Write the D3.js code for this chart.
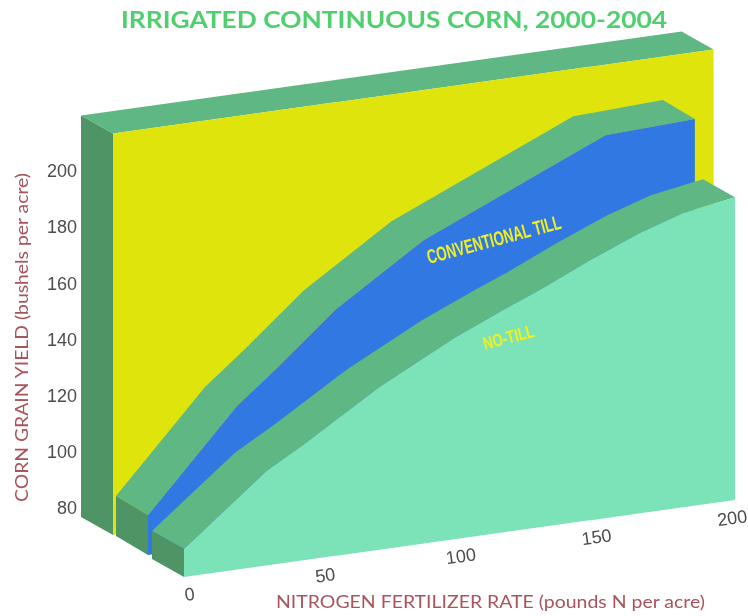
<!DOCTYPE html>
<html>
<head>
<meta charset="utf-8">
<script src="https://cdn.jsdelivr.net/npm/d3@7/dist/d3.min.js"></script>
<style>
  html, body { margin: 0; padding: 0; background: #fff; }
  svg { display: block; }
</style>
</head>
<body>
<div id="chart"></div>
<script>
var chartTitle = 'IRRIGATED CONTINUOUS CORN, 2000-2004';
var yTitle = 'CORN GRAIN YIELD (bushels per acre)';
var xTitle = 'NITROGEN FERTILIZER RATE (pounds N per acre)';

var yTicks = [80, 100, 120, 140, 160, 180, 200];
var xTicks = [0, 50, 100, 150, 200];

var noTillRate = [0, 30, 44.6, 71, 98, 117, 129, 147.4, 165.5, 181, 200];
var noTillYield = [90, 113.6, 121.9, 137.9, 151.6, 159.7, 164.4, 172.6, 179.8, 184.7, 187.8];

var convRate = [0, 32.3, 46, 67.9, 100, 166, 198.5];
var convYield = [94.2, 128.6, 139.5, 157.9, 178.4, 206.7, 208];

// back wall runs a bit past the last rate and up past the last tick
var wallRate = [0, 218];
var wallYield = [223, 223];

var width = 748, height = 616;

var colors = {
  wall: '#e0e40a',
  conv: '#3278e3',
  noTill: '#7ce3b8',
  top: '#5fb784',
  side: '#509465',
  title: '#4fcf6e',
  label: '#a9535a',
  tick: '#4d4d4d',
  note: '#f2f01e'
};

// the fake 3d: every plane is the front plane slid back by dx, dy
var planes = {
  noTillFront: {dx: 0, dy: 0},
  noTillBack: {dx: -32, dy: -18},
  convFront: {dx: -36, dy: -22},
  convBack: {dx: -68, dy: -41},
  wallFront: {dx: -71, dy: -42},
  wallBack: {dx: -103, dy: -60}
};

var xScale = d3.scaleLinear().domain([0, 200]).range([184, 735]);
var floorScale = d3.scaleLinear().domain([0, 200]).range([577, 500]);
var heightScale = d3.scaleLinear().domain([80, 200]).range([0, 337]);

var project = function(rate, value, plane) {
  return [
    xScale(rate) + plane.dx,
    floorScale(rate) - heightScale(value) + plane.dy
  ];
};

var curve = function(rates, values, plane) {
  return rates.map(function(r, i) { return project(r, values[i], plane); });
};

var floor = function(rates, plane) {
  return rates.map(function(r) { return project(r, 80, plane); });
};

var svg = d3.select('#chart').append('svg')
  .attr('width', width)
  .attr('height', height);

svg.append('filter')
  .attr('id', 'soft')
  .attr('x', '-5%').attr('y', '-5%')
  .attr('width', '110%').attr('height', '110%')
  .append('feGaussianBlur')
  .attr('stdDeviation', 0.6);

var root = svg.append('g').attr('filter', 'url(#soft)');

var line = d3.line();

var polygon = function(points, fill) {
  root.append('path')
    .attr('d', line(points) + 'Z')
    .attr('fill', fill);
};

// solid slab: top ribbon, left side, then the front face
var slab = function(rates, values, front, back, fill) {
  var frontTop = curve(rates, values, front);
  var backTop = curve(rates, values, back);
  var last = rates[rates.length - 1];
  var frontFloor = floor([last, 0], front);

  polygon(backTop.concat(frontTop.slice().reverse()), colors.top);
  polygon([
    backTop[0], frontTop[0],
    project(0, 80, front), project(0, 80, back)
  ], colors.side);
  polygon(frontTop.concat(frontFloor), fill);
};

slab(wallRate, wallYield, planes.wallFront, planes.wallBack, colors.wall);
slab(convRate, convYield, planes.convFront, planes.convBack, colors.conv);
slab(noTillRate, noTillYield, planes.noTillFront, planes.noTillBack, colors.noTill);

// y axis sits against the back wall
var yAxisScale = d3.scaleLinear()
  .domain([80, 200])
  .range([project(0, 80, planes.wallBack)[1] - 9, project(0, 200, planes.wallBack)[1] - 9]);

var yAxis = root.append('g')
  .attr('transform', 'translate(77, 0)')
  .call(d3.axisLeft(yAxisScale).tickValues(yTicks).tickSize(0).tickPadding(0));

// x axis follows the floor, so the group itself is rotated
var xAxisScale = d3.scaleLinear().domain([0, 200]).range([0, 548]);

var xAxis = root.append('g')
  .attr('transform', 'translate(189, 594) rotate(-8)')
  .call(d3.axisBottom(xAxisScale).tickValues(xTicks).tickSize(0).tickPadding(0));

[yAxis, xAxis].forEach(function(axis) {
  axis.select('.domain').remove();
  axis.selectAll('text')
    .attr('fill', colors.tick)
    .style('font-family', '"Liberation Sans", sans-serif')
    .style('font-size', '18px');
});
xAxis.selectAll('text').attr('y', 0).attr('dy', '0.36em');

root.append('text')
  .attr('x', 121)
  .attr('y', 28)
  .attr('textLength', 546)
  .attr('lengthAdjust', 'spacingAndGlyphs')
  .attr('fill', colors.title)
  .style('font-family', 'Lato, sans-serif')
  .style('font-weight', 700)
  .style('font-size', '23px')
  .text(chartTitle);

root.append('text')
  .attr('transform', 'translate(28, 502) rotate(-90)')
  .attr('textLength', 329)
  .attr('lengthAdjust', 'spacingAndGlyphs')
  .attr('fill', colors.label)
  .style('font-family', 'Lato, sans-serif')
  .style('font-size', '17px')
  .text(yTitle);

root.append('text')
  .attr('x', 276)
  .attr('y', 608)
  .attr('textLength', 429)
  .attr('lengthAdjust', 'spacingAndGlyphs')
  .attr('fill', colors.label)
  .style('font-family', 'Lato, sans-serif')
  .style('font-size', '17px')
  .text(xTitle);

root.append('text')
  .attr('transform', 'translate(429, 264) rotate(-15)')
  .attr('textLength', 138)
  .attr('lengthAdjust', 'spacingAndGlyphs')
  .attr('fill', colors.note)
  .style('font-family', '"Liberation Sans Narrow", "Liberation Sans", sans-serif')
  .style('font-weight', 700)
  .style('font-size', '20px')
  .text('CONVENTIONAL TILL');

root.append('text')
  .attr('transform', 'translate(485, 350) rotate(-15)')
  .attr('textLength', 52)
  .attr('lengthAdjust', 'spacingAndGlyphs')
  .attr('fill', colors.note)
  .style('font-family', '"Liberation Sans Narrow", "Liberation Sans", sans-serif')
  .style('font-weight', 700)
  .style('font-size', '18px')
  .text('NO-TILL');
</script>
</body>
</html>
